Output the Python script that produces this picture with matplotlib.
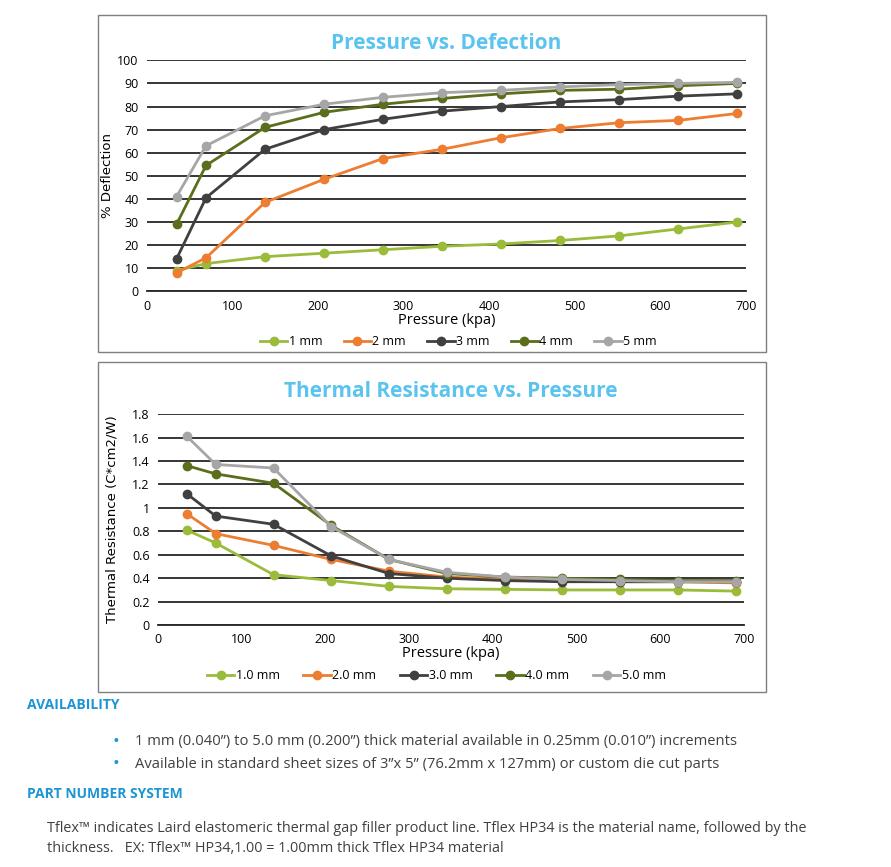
import matplotlib.pyplot as plt
from matplotlib.patches import Rectangle
import numpy as np

# pressure points (kPa)
pressure = [34.5, 69, 138, 207, 276, 345, 414, 483, 552, 621, 690]

defl_1mm = [9, 12, 15, 16.5, 18, 19.5, 20.5, 22, 24, 27, 30]
defl_2mm = [8, 14.5, 38.5, 48.5, 57.5, 61.5, 66.5, 70.5, 73, 74, 77]
defl_3mm = [14, 40.5, 61.5, 70, 74.5, 78, 80, 82, 83, 84.5, 85.5]
defl_4mm = [29, 54.5, 71, 77.5, 81, 83.5, 85.5, 87, 87.5, 89, 90]
defl_5mm = [41, 63, 76, 81, 84, 86, 87, 88.5, 89.5, 90, 90.5]

res_1mm = [0.81, 0.70, 0.43, 0.38, 0.33, 0.31, 0.305, 0.30, 0.30, 0.30, 0.29]
res_2mm = [0.95, 0.78, 0.68, 0.56, 0.46, 0.41, 0.39, 0.38, 0.37, 0.37, 0.36]
res_3mm = [1.12, 0.93, 0.86, 0.59, 0.44, 0.40, 0.38, 0.37, 0.37, 0.37, 0.37]
res_4mm = [1.36, 1.29, 1.21, 0.85, 0.56, 0.44, 0.41, 0.40, 0.39, 0.38, 0.38]
res_5mm = [1.61, 1.37, 1.34, 0.84, 0.56, 0.45, 0.41, 0.39, 0.38, 0.37, 0.37]

defl_labels = ['1 mm', '2 mm', '3 mm', '4 mm', '5 mm']
res_labels = ['1.0 mm', '2.0 mm', '3.0 mm', '4.0 mm', '5.0 mm']
colors = ['#9BBB3B', '#ED7D31', '#404040', '#5A6E1C', '#A6A6A6']

plt.rcParams['font.family'] = ['Open Sans', 'DejaVu Sans']
title_col = '#5BC4EE'
head_col = '#1B95D3'

fig = plt.figure(figsize=(8.91, 8.67), dpi=100)

# chart frames
for y0, h in [(0.594, 0.3887), (0.2018, 0.3806)]:
    fig.patches.append(Rectangle((0.110, y0), 0.7497, h, transform=fig.transFigure,
                                 fill=False, edgecolor='#7F7F7F', linewidth=1.0))


def style_axes(ax, ymax, ystep):
    ax.set_xlim(0, 700)
    ax.set_ylim(0, ymax)
    ax.set_xticks(np.arange(0, 701, 100))
    ax.set_yticks(np.arange(0, ymax + ystep / 2, ystep))
    ax.grid(axis='y', color='#262626', linewidth=1.3)
    ax.set_axisbelow(True)
    for s in ['top', 'right', 'left']:
        ax.spines[s].set_visible(False)
    ax.spines['bottom'].set_color('#262626')
    ax.spines['bottom'].set_linewidth(1.3)
    ax.tick_params(length=0, labelsize=9, pad=6)


ax1 = fig.add_axes([0.165, 0.664, 0.672, 0.2664])
for vals, lab, c in zip([defl_1mm, defl_2mm, defl_3mm, defl_4mm, defl_5mm], defl_labels, colors):
    ax1.plot(pressure, vals, color=c, linewidth=2, marker='o', markersize=6, label=lab)
style_axes(ax1, 100, 10)
ax1.set_yticklabels([str(int(v)) for v in np.arange(0, 101, 10)])
ax1.set_ylabel('% Deflection', fontsize=9.5, family='DejaVu Sans')
ax1.yaxis.set_label_coords(-0.055, 0.5)
ax1.set_xlabel('Pressure (kpa)', fontsize=10.5, labelpad=0)
ax1.set_title('Pressure vs. Defection', color=title_col, fontsize=15, fontweight='bold', pad=8)
ax1.legend(loc='upper center', bbox_to_anchor=(0.52, -0.14), ncol=5, frameon=False,
           fontsize=9, handlelength=2.2, handletextpad=0.1, columnspacing=1.7)

ax2 = fig.add_axes([0.1773, 0.279, 0.6577, 0.2434])
for vals, lab, c in zip([res_1mm, res_2mm, res_3mm, res_4mm, res_5mm], res_labels, colors):
    ax2.plot(pressure, vals, color=c, linewidth=2, marker='o', markersize=6, label=lab)
style_axes(ax2, 1.8, 0.2)
ax2.set_yticklabels(['0', '0.2', '0.4', '0.6', '0.8', '1', '1.2', '1.4', '1.6', '1.8'])
ax2.set_ylabel('Thermal Resistance (C*cm2/W)', fontsize=9.5, family='DejaVu Sans')
ax2.yaxis.set_label_coords(-0.068, 0.5)
ax2.set_xlabel('Pressure (kpa)', fontsize=10.5, labelpad=0)
ax2.set_title('Thermal Resistance vs. Pressure', color=title_col, fontsize=15, fontweight='bold', pad=12)
ax2.legend(loc='upper center', bbox_to_anchor=(0.475, -0.155), ncol=5, frameon=False,
           fontsize=9, handlelength=2.2, handletextpad=0.1, columnspacing=1.9)

# text below the charts
fig.text(27 / 891, 1 - 705 / 867, 'AVAILABILITY', color=head_col, fontsize=10,
         fontweight='bold', va='center')
bullets = ['1 mm (0.040\u201d) to 5.0 mm (0.200\u201d) thick material available in 0.25mm (0.010\u201d) increments',
           'Available in standard sheet sizes of 3\u201dx 5\u201d (76.2mm x 127mm) or custom die cut parts']
for i, b in enumerate(bullets):
    yy = 1 - (742 + 22 * i) / 867
    fig.text(113 / 891, yy, '\u2022', color=head_col, fontsize=13, va='center')
    fig.text(135 / 891, yy, b, color='#404040', fontsize=10.6, va='center')
fig.text(27 / 891, 1 - 794 / 867, 'PART NUMBER SYSTEM', color=head_col, fontsize=10,
         fontweight='bold', va='center')
fig.text(47 / 891, 1 - 829 / 867,
         'Tflex\u2122 indicates Laird elastomeric thermal gap filler product line. Tflex HP34 is the material name, followed by the',
         color='#404040', fontsize=10.4, va='center')
fig.text(47 / 891, 1 - 849 / 867,
         'thickness.   EX: Tflex\u2122 HP34,1.00 = 1.00mm thick Tflex HP34 material',
         color='#404040', fontsize=10.4, va='center')

fig.savefig('out.png', dpi=100, facecolor='white')
